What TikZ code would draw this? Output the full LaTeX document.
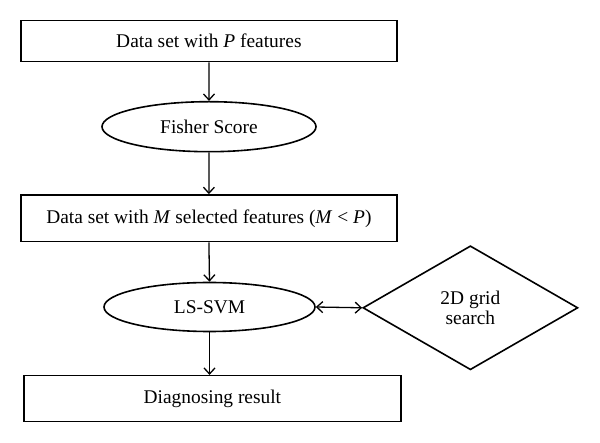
\documentclass[tikz,border=0pt]{standalone}
\usepackage{fontspec}
\setmainfont{Liberation Serif}
\usetikzlibrary{shapes.geometric,arrows.meta}
\begin{document}
\begin{tikzpicture}[x=1pt,y=-1pt,
  every node/.style={font=\fontsize{19.4pt}{23pt}\selectfont, inner sep=0pt, line width=1.6pt, draw=black},
  boxnode/.style={rectangle, minimum width=376pt},
  ellnode/.style={ellipse},
  dianode/.style={diamond, aspect=1.734, minimum width=215pt, minimum height=124pt, align=center},
  conn/.style={line width=1.3pt, -{Straight Barb[length=6pt,width=11pt,line width=1.3pt]}},
  dconn/.style={line width=1.3pt, {Straight Barb[length=6pt,width=11pt,line width=1.3pt]}-{Straight Barb[length=6pt,width=11pt,line width=1.3pt]}}
]
\useasboundingbox (0,0) rectangle (600,443);
\node[boxnode, minimum height=41pt] (b1) at (208.9,41.2) {Data set with \textit{P} features};
\node[ellnode, minimum width=214pt, minimum height=50pt] (fisher) at (209,126.7) {Fisher Score};
\node[boxnode, minimum height=46.7pt] (b2) at (208.9,218.3) {Data set with \textit{M} selected features (\textit{M} {<} \textit{P})};
\node[ellnode, minimum width=211pt, minimum height=49pt] (svm) at (209.5,307) {LS-SVM};
\node[dianode] (grid) at (470.4,307.8) {2D grid\\[-3pt]search};
\node[boxnode, minimum width=376.7pt, minimum height=46pt] (b3) at (212.4,398.7) {Diagnosing result};
\draw[conn] (b1.south) -- (fisher.north);
\draw[conn] (fisher.south) -- (b2.north);
\draw[conn] (b2.south) -- (svm.north);
\draw[conn] (svm.south) -- (svm.south |- b3.north);
\draw[dconn] (svm.east) -- (grid.west);
\end{tikzpicture}
\end{document}
